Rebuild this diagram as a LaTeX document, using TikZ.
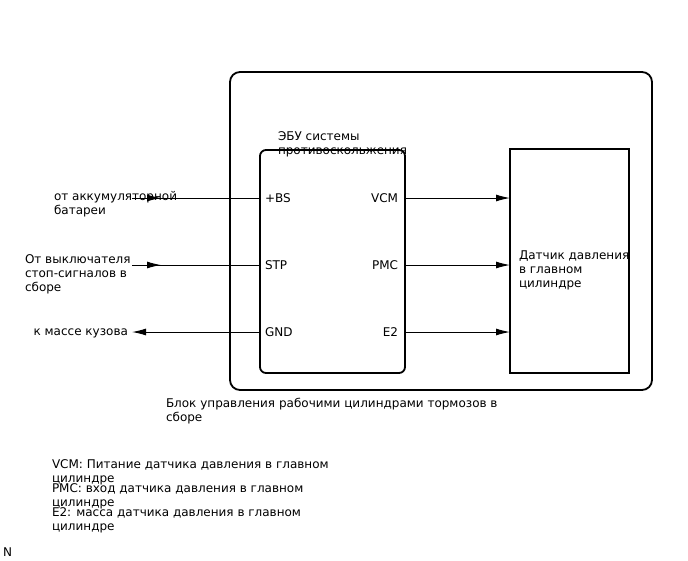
\documentclass[tikz,border=0pt]{standalone}
\usepackage{fontspec}
\setmainfont{DejaVu Sans}
\usetikzlibrary{arrows.meta}
\begin{document}
\begin{tikzpicture}[x=1pt,y=-1pt,
  every node/.style={inner sep=0pt, outer sep=0pt, font=\fontsize{12}{14}\selectfont},
  txt/.style={anchor=base west, align=left},
  txtr/.style={anchor=base east, align=right},
  wire/.style={line width=1pt},
  tip/.style={-{Latex[length=14pt,width=7pt]}},
  bigbox/.style={draw, line width=1.8pt, rounded corners=10pt},
  ecubox/.style={draw, line width=1.8pt, rounded corners=6pt},
  sensbox/.style={draw, line width=1.4pt}]
\useasboundingbox (0,0) rectangle (688,560);
% boxes
\node[bigbox, minimum width=422pt, minimum height=318pt, anchor=north west] (blk) at (230,72) {};
\node[ecubox, minimum width=145pt, minimum height=223pt, anchor=north west] (ecu) at (260,150) {};
\node[sensbox, minimum width=119pt, minimum height=224pt, anchor=north west] (sens) at (510,149) {};
% titles (anchor at last-line baseline)
\node[txt] (ecut) at (278,154) {ЭБУ системы\\противоскольжения};
\node[txt] (senst) at (519,287) {Датчик давления\\в главном\\цилиндре};
\node[txt] (blkt) at (166,421) {Блок управления рабочими цилиндрами тормозов в\\сборе};
% pins
\node[txt] (bs) at (265,202) {+BS};
\node[txt] (stp) at (265,269) {STP};
\node[txt] (gnd) at (265,336) {GND};
\node[txtr] (vcm) at (398,202) {VCM};
\node[txtr] (pmc) at (398,269) {PMC};
\node[txtr] (e2) at (398,336) {E2};
% left labels
\node[txt] (batt) at (54,214) {от аккумуляторной\\батареи};
\node[txt] (stop) at (25,291) {От выключателя\\стоп-сигналов в\\сборе};
\node[txtr] (body) at (128,335) {к массе кузова};
% wire coordinates
\coordinate (a1) at (132,198);
\coordinate (m1) at (161,198);
\coordinate (a2) at (132,265);
\coordinate (m2) at (161,265);
\coordinate (a3) at (132,332);
% left wires
\draw[wire] (a1) -- (ecu.west |- a1);
\draw[wire, tip] (a1) -- (m1);
\draw[wire] (a2) -- (ecu.west |- a2);
\draw[wire, tip] (a2) -- (m2);
\draw[wire, tip] (ecu.west |- a3) -- (a3);
% right wires
\draw[wire, tip] (ecu.east |- a1) -- (sens.west |- a1);
\draw[wire, tip] (ecu.east |- a2) -- (sens.west |- a2);
\draw[wire, tip] (ecu.east |- a3) -- (sens.west |- a3);
% legend
\node[txt] (l1) at (52,482) {VCM: Питание датчика давления в главном\\цилиндре};
\node[txt] (l2) at (52,506) {PMC: вход датчика давления в главном\\цилиндре};
\node[txt] (l3) at (52,530) {E2: масса датчика давления в главном\\цилиндре};
\node[txt] (n) at (3,556) {N};
\end{tikzpicture}
\end{document}
